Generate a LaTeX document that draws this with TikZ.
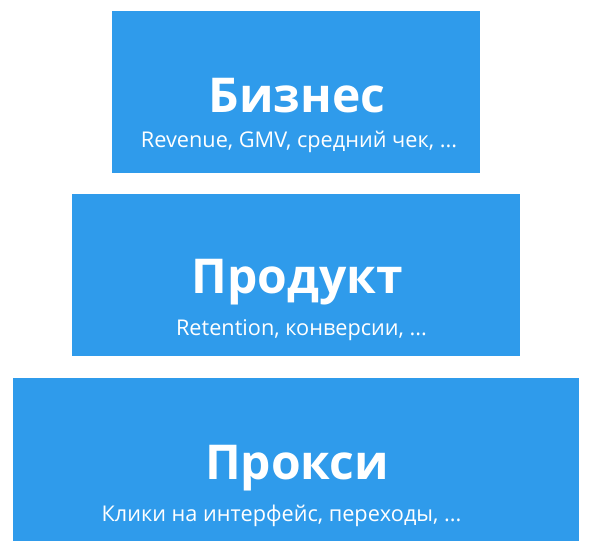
\documentclass[tikz,border=0pt]{standalone}
\usepackage{fontspec}
\setmainfont{Open Sans}
\definecolor{boxblue}{RGB}{47,155,235}
\tikzset{
  levelbox/.style={fill=boxblue, draw=none},
  titletext/.style={text=white, font=\fontsize{48}{56}\selectfont\bfseries, anchor=base, inner sep=0pt},
  subtext/.style={text=white, font=\fontsize{21.7}{26}\selectfont, anchor=base, inner sep=0pt}
}
\begin{document}
\begin{tikzpicture}[x=1pt,y=-1pt]
\useasboundingbox (0,0) rectangle (592,554);
\fill[white] (0,0) rectangle (592,554);
\path[levelbox] (112,11) rectangle (480,173) node[pos=0.5] (biz) {};
\path[levelbox] (72,194) rectangle (520,356) node[pos=0.5] (prod) {};
\path[levelbox] (13,378) rectangle (579,541) node[pos=0.5] (proxy) {};
\node[titletext] (bizt) at (297,112) {Бизнес};
\node[subtext] (bizs) at (299,147) {Revenue, GMV, средний чек, ...};
\node[titletext] (prodt) at (297.5,293) {Продукт};
\node[subtext] (prods) at (301.5,335) {Retention, конверсии, ...};
\node[titletext] (proxyt) at (297,479) {Прокси};
\node[subtext] (proxys) at (281.5,521) {Клики на интерфейс, переходы, ...};
\end{tikzpicture}
\end{document}
